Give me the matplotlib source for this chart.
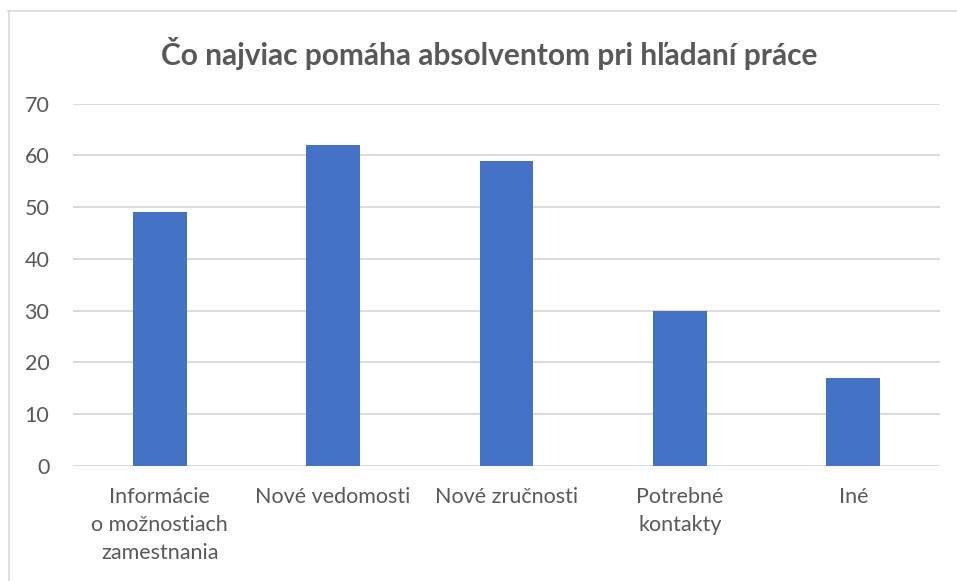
import matplotlib.pyplot as plt
from matplotlib.lines import Line2D

categories = ['Informácie\no možnostiach\nzamestnania', 'Nové vedomosti',
              'Nové zručnosti', 'Potrebné\nkontakty', 'Iné']
values = [49, 62, 59, 30, 17]
yticks = [0, 10, 20, 30, 40, 50, 60, 70]

plt.rcParams['font.family'] = ['Lato', 'DejaVu Sans']
text_color = '#595959'
W, H = 957, 581

fig = plt.figure(figsize=(W / 100, H / 100), dpi=100)
ax = fig.add_axes([73 / W, 1 - 466 / H, (940 - 73) / W, (466 - 103.7) / H])

x = list(range(len(categories)))
ax.bar(x, values, width=0.31, color='#4472c4', zorder=3)

ax.set_xlim(-0.5, len(categories) - 0.5)
ax.set_ylim(0, 70)
ax.set_yticks(yticks)
ax.set_xticks(x)
ax.set_xticklabels(categories, linespacing=1.52)
ax.grid(axis='y', color='#d9d9d9', linewidth=1.3, zorder=0)
ax.tick_params(axis='both', length=0, labelsize=15.5, labelcolor=text_color)
ax.tick_params(axis='x', pad=15)
ax.tick_params(axis='y', pad=17)
for s in ax.spines.values():
    s.set_visible(False)

fig.text(0.511, 1 - 54 / H, 'Čo najviac pomáha absolventom pri hľadaní práce',
         ha='center', va='center', fontsize=21.5, fontweight='bold', color=text_color)

# chart frame (left and top edges visible)
fig.add_artist(Line2D([8.5 / W, 8.5 / W], [0, 1 - 11 / H], transform=fig.transFigure,
                      color='#d9d9d9', linewidth=1.2))
fig.add_artist(Line2D([8 / W, 1], [1 - 11 / H, 1 - 11 / H], transform=fig.transFigure,
                      color='#d9d9d9', linewidth=1.2))

fig.savefig('out.png', dpi=100)
